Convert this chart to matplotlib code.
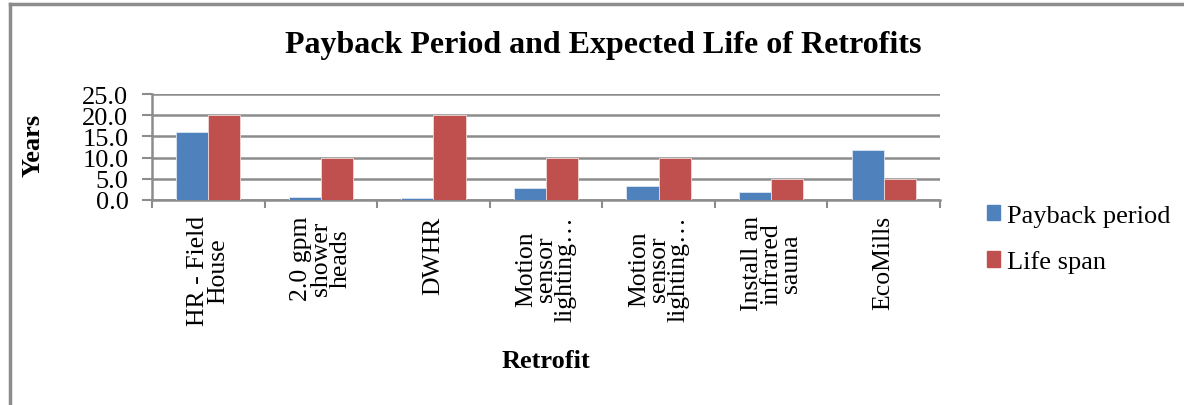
import numpy as np
import matplotlib
matplotlib.use("Agg")
import matplotlib.pyplot as plt
from matplotlib.lines import Line2D
from matplotlib.patches import Patch

plt.rcParams['font.family'] = ['Liberation Serif', 'DejaVu Serif']

retrofits = ["HR - Field\nHouse", "2.0 gpm\nshower\nheads", "DWHR",
             "Motion\nsensor\nlighting…", "Motion\nsensor\nlighting…",
             "Install an\ninfrared\nsauna", "EcoMills"]
payback = [16.0, 0.6, 0.5, 2.8, 3.3, 2.0, 11.8]
life_span = [20, 10, 20, 10, 10, 5, 5]
yticks = [0.0, 5.0, 10.0, 15.0, 20.0, 25.0]

W, H = 1184, 406
fig = plt.figure(figsize=(W / 100, H / 100), dpi=100)

def fx(px):
    return px / W

def fy(py):
    return 1 - py / H

# axes box in pixels: left 152, right 940, top 95, bottom 201
ax = fig.add_axes([fx(152), fy(201), fx(940) - fx(152), fy(95) - fy(201)])

grey = "#8c8c8c"
x = np.arange(len(retrofits))
bw = 0.285
ax.bar(x - bw / 2, payback, bw, color="#4F81BD", edgecolor="#dfe7f2", linewidth=0.6,
       label="Payback period", zorder=3)
ax.bar(x + bw / 2, life_span, bw, color="#C0504D", edgecolor="#f0d8d8", linewidth=0.6,
       label="Life span", zorder=3)

ax.set_xlim(-0.5, len(retrofits) - 0.5)
ax.set_ylim(0, 25)
ax.set_yticks(yticks)
ax.set_yticklabels([f"{v:.1f}" for v in yticks], fontsize=19)
ax.yaxis.grid(True, color=grey, linewidth=1.8, zorder=0)
ax.tick_params(axis="y", length=7, width=1.5, color=grey, pad=10)

ax.set_xticks(x)
ax.set_xticklabels(retrofits, rotation=90, fontsize=18.5, linespacing=0.86,
                   ha="center", va="top", multialignment="center")
ax.tick_params(axis="x", which="major", length=0, pad=11)
ax.set_xticks(np.arange(len(retrofits) + 1) - 0.5, minor=True)
ax.tick_params(axis="x", which="minor", length=6, width=1.5, color=grey)

for s in ["top", "right"]:
    ax.spines[s].set_visible(False)
for s in ["left", "bottom"]:
    ax.spines[s].set_color(grey)
    ax.spines[s].set_linewidth(1.8)

fig.text(fx(603), fy(46), "Payback Period and Expected Life of Retrofits",
         fontsize=23, fontweight="bold", ha="center", va="center")
fig.text(fx(33), fy(145), "Years", fontsize=19, fontweight="bold",
         rotation=90, ha="center", va="center")
fig.text(fx(546), fy(362), "Retrofit", fontsize=19, fontweight="bold",
         ha="center", va="center")

handles = [Patch(color="#4F81BD"), Patch(color="#C0504D")]
fig.legend(handles, ["Payback period", "Life span"], loc="center left",
           bbox_to_anchor=(fx(963), fy(240)), frameon=False, fontsize=19,
           handlelength=0.5, handleheight=0.5, handletextpad=0.25, labelspacing=0.9)

# outer frame (left and top edges visible)
fig.add_artist(Line2D([fx(10), fx(10)], [fy(5), 0], color=grey, linewidth=2.5))
fig.add_artist(Line2D([fx(10), 1], [fy(5), fy(5)], color=grey, linewidth=2.5))

fig.savefig("out.png", dpi=100)
